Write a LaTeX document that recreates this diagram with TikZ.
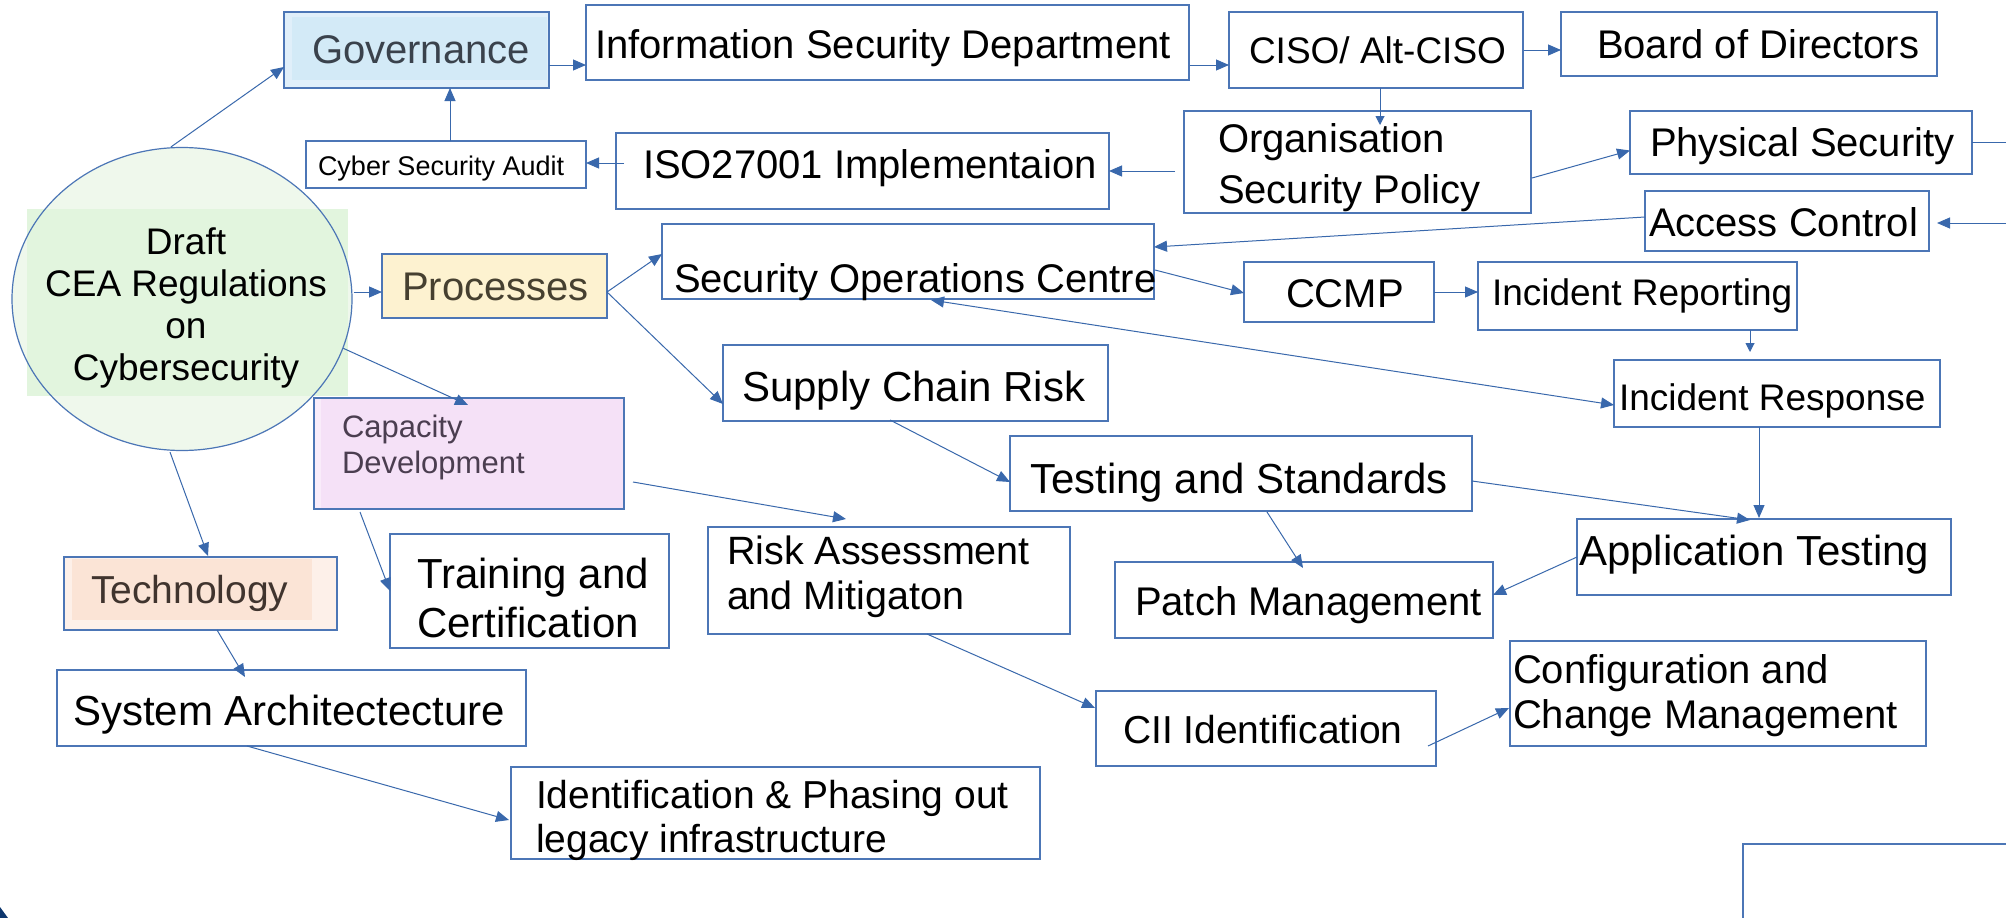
\documentclass[tikz,border=0pt]{standalone}
\usepackage{fontspec}
\setmainfont{Liberation Sans}
\usetikzlibrary{arrows.meta,calc,shapes.geometric}
\definecolor{bline}{RGB}{57,104,172}
\definecolor{bbox}{RGB}{76,118,182}
\definecolor{ellfill}{RGB}{239,248,236}
\definecolor{ellrect}{RGB}{226,245,222}
\definecolor{govout}{RGB}{224,239,250}
\definecolor{govin}{RGB}{211,234,247}
\definecolor{procfill}{RGB}{253,242,208}
\definecolor{capout}{RGB}{249,236,250}
\definecolor{capin}{RGB}{245,225,247}
\definecolor{techout}{RGB}{253,240,233}
\definecolor{techin}{RGB}{251,228,214}
\definecolor{govtext}{RGB}{58,66,76}
\definecolor{proctext}{RGB}{70,64,48}
\definecolor{captext}{RGB}{75,62,80}
\definecolor{techtext}{RGB}{64,52,46}
\definecolor{navy}{RGB}{14,55,110}
\newcommand\fsz[2]{\fontsize{#1}{#2}\selectfont}
\begin{document}
\begin{tikzpicture}[x=1pt,y=-1pt,
  box/.style={draw=bbox, line width=1.2pt, rectangle, inner sep=0pt, outer sep=0pt},
  txt/.style={anchor=base west, inner sep=0pt, outer sep=0pt, text=black, align=left},
  arr/.style={draw=bline, line width=1pt, -{Triangle[length=13pt,width=11pt]}},
  darr/.style={draw=bline, line width=1pt, {Triangle[length=13pt,width=11pt]}-{Triangle[length=13pt,width=11pt]}},
  sarr/.style={draw=bline, line width=1pt, -{Triangle[length=9pt,width=9pt]}},
  pline/.style={draw=bline, line width=1pt}]
\useasboundingbox (0,0) rectangle (2006,918);
\fill[white] (0,0) rectangle (2006,918);

% ---- central ellipse
\fill[ellfill] (182,299) ellipse [x radius=170, y radius=151.5];
\fill[ellrect] (27,209) rectangle (348,396);
\node[ellipse, draw=bbox, line width=1.2pt, minimum width=340pt, minimum height=303pt, inner sep=0pt] (ell) at (182,299) {};
\node[anchor=base, align=center, inner sep=0pt, font=\fsz{37}{42}] (ellt) at (186,380) {Draft\\CEA Regulations\\on\\Cybersecurity};

% ---- governance
\node[box, fill=govout, minimum width=265pt, minimum height=76pt] (gov) at (416.5,50) {};
\fill[govin] (292,17) rectangle (547,80);
\draw[bbox, line width=1.2pt] (gov.south west) rectangle (gov.north east);
\node[txt, text=govtext, font=\fsz{40}{48}] (govt) at (312,63) {Governance};

\node[box, minimum width=603pt, minimum height=75pt] (info) at (887.5,42.5) {};
\node[txt, font=\fsz{40}{48}] (infot) at (595,58) {Information Security Department};

\node[box, minimum width=294pt, minimum height=76pt] (ciso) at (1376,50) {};
\node[txt, font=\fsz{37}{44}] (cisot) at (1249,63) {CISO/ Alt-CISO};

\node[box, minimum width=376pt, minimum height=64pt] (board) at (1749,44) {};
\node[txt, font=\fsz{40}{48}] (boardt) at (1597,58) {Board of Directors};

\node[box, minimum width=280pt, minimum height=47pt] (audit) at (446,164.5) {};
\node[txt, font=\fsz{27}{32}] (auditt) at (318,175) {Cyber Security Audit};

\node[box, minimum width=493pt, minimum height=76pt] (iso) at (862.5,171) {};
\node[txt, font=\fsz{40}{48}] (isot) at (643,178) {ISO27001 Implementaion};

\node[box, minimum width=347pt, minimum height=102pt] (org) at (1357.5,162) {};
\node[txt, font=\fsz{40}{51}] (orgt) at (1218,203) {Organisation\\Security Policy};

\node[box, minimum width=342pt, minimum height=63pt] (phys) at (1801,142.5) {};
\node[txt, font=\fsz{40}{48}] (physt) at (1650,156) {Physical Security};

\node[box, minimum width=284pt, minimum height=60pt] (acc) at (1787,221) {};
\node[txt, font=\fsz{40}{48}] (acct) at (1649,236) {Access Control};

% ---- processes
\node[box, fill=procfill, minimum width=225pt, minimum height=64pt] (proc) at (494.5,286) {};
\node[txt, text=proctext, font=\fsz{40}{48}] (proct) at (402,300) {Processes};

\node[box, minimum width=492pt, minimum height=75pt] (soc) at (908,261.5) {};
\node[txt, font=\fsz{40}{48}] (soct) at (674,292) {Security Operations Centre};

\node[box, minimum width=190pt, minimum height=60pt] (ccmp) at (1339,292) {};
\node[txt, font=\fsz{40}{48}] (ccmpt) at (1286,307) {CCMP};

\node[box, minimum width=319pt, minimum height=68pt] (irep) at (1637.5,296) {};
\node[txt, font=\fsz{37}{44}] (irept) at (1492,305) {Incident Reporting};

\node[box, minimum width=326pt, minimum height=67pt] (iresp) at (1777,393.5) {};
\node[txt, font=\fsz{37}{44}] (irespt) at (1619,410) {Incident Response};

\node[box, minimum width=385pt, minimum height=76pt] (supply) at (915.5,383) {};
\node[txt, font=\fsz{42}{50}] (supplyt) at (742,401) {Supply Chain Risk};

\node[box, minimum width=462pt, minimum height=75pt] (test) at (1241,473.5) {};
\node[txt, font=\fsz{42}{50}] (testt) at (1030,493) {Testing and Standards};

\node[box, minimum width=378pt, minimum height=76pt] (patch) at (1304,600) {};
\node[txt, font=\fsz{40}{48}] (patcht) at (1135,615) {Patch Management};

\node[box, minimum width=374pt, minimum height=76pt] (apt) at (1764,557) {};
\node[txt, font=\fsz{42}{50}] (aptt) at (1579,565) {Application Testing};

\node[box, minimum width=362pt, minimum height=107pt] (risk) at (889,580.5) {};
\node[txt, font=\fsz{39.5}{45}] (riskt) at (727,609) {Risk Assessment\\and Mitigaton};

\node[box, minimum width=340pt, minimum height=75pt] (cii) at (1266,728.5) {};
\node[txt, font=\fsz{39}{47}] (ciit) at (1123,743) {CII Identification};

\node[box, minimum width=416pt, minimum height=105pt] (conf) at (1718,693.5) {};
\node[txt, font=\fsz{40}{45}] (conft) at (1513,728) {Configuration and\\Change Management};

% ---- capacity development
\node[box, fill=capout, minimum width=310pt, minimum height=111pt] (cap) at (469,453.5) {};
\fill[capin] (321,399) rectangle (623,508);
\draw[bbox, line width=1.2pt] (cap.south west) rectangle (cap.north east);
\node[txt, text=captext, font=\fsz{31}{36}] (capt) at (342,473) {Capacity\\Development};

\node[box, minimum width=279pt, minimum height=114pt] (train) at (529.5,591) {};
\node[txt, font=\fsz{42}{49}] (traint) at (417,637) {Training and\\Certification};

% ---- technology
\node[box, fill=techout, minimum width=273pt, minimum height=73pt] (tech) at (200.5,593.5) {};
\fill[techin] (72,558.7) rectangle (312,620);
\draw[bbox, line width=1.2pt] (tech.south west) rectangle (tech.north east);
\node[txt, text=techtext, font=\fsz{39}{47}] (techt) at (91,603) {Technology};

\node[box, minimum width=469pt, minimum height=76pt] (sys) at (291.5,708) {};
\node[txt, font=\fsz{42}{50}] (syst) at (73,725) {System Architectecture};

\node[box, minimum width=529pt, minimum height=92pt] (ident) at (775.5,813) {};
\node[txt, font=\fsz{39}{44}] (identt) at (536,852) {Identification \& Phasing out\\legacy infrastructure};

% ---- partial shapes at the edges
\draw[bbox, line width=1.2pt] (1743,918) -- (1743,844) -- (2006,844);
\fill[navy] (0,907) -- (8,918) -- (0,918) -- cycle;
\coordinate (physout) at (2006,142.5);
\coordinate (accin) at (2006,223);

% ---- connectors
\draw[arr] ($(ell.north)+(-11,0)$) -- ($(gov.west)+(0,17)$);
\draw[arr] ($(gov.east)+(0,15)$) -- ($(info.west)+(0,22.5)$);
\draw[arr] ($(info.east)+(1,22.5)$) -- ($(ciso.west)+(0,15)$);
\draw[arr] ($(ciso.east)+(1,0)$) -- ($(board.west)+(0,6)$);
\draw[sarr] ($(ciso.south)+(4,0)$) -- ($(org.north)+(22.5,14)$);
\draw[arr] ($(org.west)+(-9,9)$) -- (iso.east);
\draw[arr] ($(iso.west)+(8,-8)$) -- ($(audit.east)+(0,-1.5)$);
\draw[arr] ($(audit.north)+(4,0)$) -- ($(gov.south)+(33.5,0)$);
\draw[arr] ($(org.east)+(1,16)$) -- ($(phys.west)+(0,8)$);
\draw[pline] (phys.east) -- (physout);
\draw[arr] (accin) -- ($(acc.east)+(8,2)$);
\draw[arr] ($(acc.west)+(0,-4)$) -- ($(soc.east)+(0,-14.5)$);
\draw[arr] ($(soc.east)+(1,8.5)$) -- ($(ccmp.west)+(0,1)$);
\draw[arr] (ccmp.east) -- ($(irep.west)+(0,-4)$);
\draw[sarr] ($(irep.south)+(112.5,0)$) -- ($(irep.south)+(112.5,22)$);
\draw[darr] ($(soc.south)+(23,1)$) -- ($(iresp.west)+(0,11.5)$);
\draw[arr] ($(iresp.south)+(-18,0)$) -- ($(apt.north)+(-5,-1)$);
\draw[arr] ($(test.east)+(0,7.5)$) -- ($(apt.north)+(-14,1)$);
\draw[arr] (apt.west) -- ($(patch.east)+(0,-5)$);
\draw[arr] ($(ell.east)+(1,-7)$) -- ($(proc.west)+(0,6)$);
\draw[arr] ($(proc.east)+(0,6)$) -- ($(soc.west)+(0,-7.5)$);
\draw[arr] ($(proc.east)+(0,6)$) -- ($(supply.west)+(0,21)$);
\draw[arr] (ell.-17) -- ($(cap.north)+(-1,7)$);
\draw[arr] ($(ell.south)+(-12,1)$) -- ($(tech.north)+(7.5,-1)$);
\draw[arr] ($(tech.south)+(16.5,0)$) -- ($(sys.north)+(-46.5,7)$);
\draw[arr] ($(sys.south)+(-44.5,0)$) -- ($(ident.west)+(-2,7)$);
\draw[arr] ($(cap.south)+(-109,3)$) -- (train.west);
\draw[arr] ($(cap.east)+(9,28.5)$) -- ($(risk.north)+(-43,-8)$);
\draw[arr] ($(supply.south)+(-25.5,-1)$) -- ($(test.west)+(0,8.5)$);
\draw[arr] ($(test.south)+(26,1)$) -- ($(patch.north)+(-1,6)$);
\draw[arr] ($(risk.south)+(38,0)$) -- ($(cii.west)+(-1,-20.5)$);
\draw[arr] ($(cii.east)+(-8,17.5)$) -- ($(conf.west)+(-1,14.5)$);
\end{tikzpicture}
\end{document}
